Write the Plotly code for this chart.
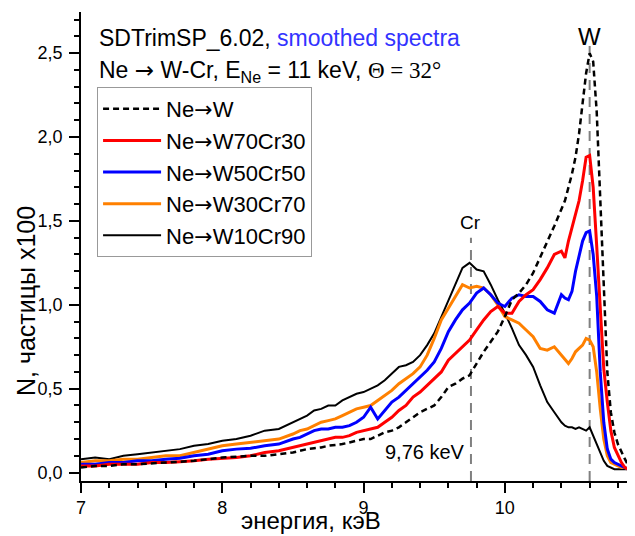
import plotly.graph_objects as go

# energy grid (keV)
energy = [7.0, 7.1, 7.2, 7.3, 7.4, 7.5, 7.6, 7.7, 7.8, 7.9, 8.0, 8.1, 8.2, 8.3, 8.4, 8.5,
          8.55, 8.6, 8.65, 8.7, 8.75, 8.8, 8.85, 8.9, 8.95, 9.0, 9.05, 9.1, 9.15, 9.2, 9.25,
          9.3, 9.35, 9.4, 9.45, 9.5, 9.55, 9.6, 9.65, 9.7, 9.75, 9.8, 9.85, 9.9, 9.95, 10.0,
          10.05, 10.1, 10.15, 10.2, 10.25, 10.3, 10.35, 10.4,
          10.425, 10.45, 10.475, 10.5, 10.525, 10.55, 10.575, 10.6, 10.625, 10.65, 10.675,
          10.7, 10.725, 10.75, 10.775, 10.8, 10.825, 10.85, 10.875, 10.9]

ne_w = [0.03, 0.04, 0.04, 0.05, 0.05, 0.055, 0.06, 0.065, 0.07, 0.08, 0.09, 0.095, 0.10, 0.10, 0.11, 0.12,
        0.13, 0.14, 0.145, 0.15, 0.16, 0.165, 0.17, 0.18, 0.19, 0.20, 0.20, 0.22, 0.24, 0.25, 0.27,
        0.30, 0.33, 0.36, 0.38, 0.40, 0.45, 0.51, 0.53, 0.56, 0.58, 0.65, 0.72, 0.78, 0.84, 0.93,
        1.03, 1.07, 1.12, 1.19, 1.28, 1.38, 1.47, 1.57,
        1.62, 1.70, 1.78, 1.88, 2.02, 2.20, 2.38, 2.50, 2.45, 2.15, 1.65,
        1.05, 0.60, 0.36, 0.24, 0.17, 0.12, 0.08, 0.04, 0.02]

w70cr30 = [0.04, 0.04, 0.05, 0.05, 0.05, 0.06, 0.06, 0.065, 0.07, 0.08, 0.085, 0.09, 0.10, 0.12, 0.13, 0.15,
           0.16, 0.17, 0.18, 0.19, 0.20, 0.21, 0.21, 0.22, 0.24, 0.25, 0.26, 0.27, 0.30, 0.33, 0.37,
           0.40, 0.45, 0.48, 0.52, 0.56, 0.60, 0.67, 0.71, 0.75, 0.79, 0.85, 0.91, 0.96, 0.99, 0.95,
           0.95, 1.02, 1.06, 1.09, 1.15, 1.22, 1.30, 1.32,
           1.28, 1.38, 1.46, 1.54, 1.62, 1.74, 1.88, 1.89, 1.70, 1.35, 0.95,
           0.62, 0.42, 0.25, 0.15, 0.10, 0.06, 0.03, 0.02, 0.02]

w50cr50 = [0.05, 0.05, 0.06, 0.06, 0.07, 0.07, 0.08, 0.085, 0.10, 0.11, 0.13, 0.14, 0.145, 0.16, 0.17, 0.20,
           0.21, 0.23, 0.25, 0.26, 0.26, 0.27, 0.27, 0.28, 0.30, 0.33, 0.39, 0.32, 0.37, 0.42, 0.45,
           0.49, 0.53, 0.57, 0.61, 0.66, 0.74, 0.84, 0.91, 0.97, 1.01, 1.07, 1.10, 1.06, 1.01, 0.99,
           1.04, 1.06, 1.05, 1.05, 1.02, 0.97, 0.95, 1.06,
           1.04, 1.03, 1.08, 1.20, 1.30, 1.38, 1.43, 1.44, 1.30, 1.05, 0.60,
           0.30, 0.14, 0.08, 0.06, 0.05, 0.04, 0.03, 0.02, 0.02]

w30cr70 = [0.06, 0.07, 0.07, 0.08, 0.08, 0.09, 0.10, 0.10, 0.12, 0.14, 0.16, 0.17, 0.18, 0.19, 0.20, 0.23,
           0.25, 0.26, 0.28, 0.30, 0.31, 0.32, 0.34, 0.36, 0.38, 0.39, 0.40, 0.43, 0.46, 0.49, 0.53,
           0.56, 0.59, 0.63, 0.70, 0.80, 0.91, 0.98, 1.05, 1.12, 1.10, 1.11, 1.10, 1.06, 1.00, 0.93,
           0.91, 0.89, 0.85, 0.81, 0.74, 0.73, 0.75, 0.70,
           0.67, 0.65, 0.68, 0.72, 0.74, 0.76, 0.80, 0.79, 0.75, 0.60, 0.38,
           0.20, 0.10, 0.06, 0.05, 0.04, 0.03, 0.03, 0.02, 0.02]

w10cr90 = [0.08, 0.09, 0.08, 0.10, 0.11, 0.12, 0.13, 0.14, 0.16, 0.17, 0.19, 0.20, 0.22, 0.25, 0.26, 0.30,
           0.32, 0.34, 0.37, 0.38, 0.40, 0.40, 0.43, 0.45, 0.47, 0.48, 0.50, 0.52, 0.55, 0.59, 0.63,
           0.64, 0.66, 0.70, 0.76, 0.83, 0.93, 1.03, 1.12, 1.22, 1.25, 1.21, 1.20, 1.12, 1.03, 0.95,
           0.86, 0.76, 0.70, 0.63, 0.52, 0.42, 0.36, 0.30,
           0.28, 0.27, 0.27, 0.26, 0.27, 0.26, 0.25, 0.27, 0.22, 0.17, 0.11,
           0.07, 0.04, 0.03, 0.02, 0.02, 0.02, 0.02, 0.02, 0.02]

peak_cr = 9.76
peak_w = 10.6

FONT = "Liberation Sans, Arial, sans-serif"
ARROW = "<span style='font-family:DejaVu Sans'>→</span>"

fig = go.Figure()

# draw order: black below, dashed W on top; legend order set by legendrank
traces = [
    (w10cr90, "W10Cr90", "black", 2, "solid", 5),
    (w30cr70, "W30Cr70", "#ff8000", 3, "solid", 4),
    (w50cr50, "W50Cr50", "#0000ff", 3, "solid", 3),
    (w70cr30, "W70Cr30", "#ff0000", 3, "solid", 2),
    (ne_w, "W", "black", 2.5, "6px,4px", 1),
]
for ys, target, color, width, dash, rank in traces:
    fig.add_trace(go.Scatter(
        x=energy, y=ys, mode="lines", name="Ne" + ARROW + target, legendrank=rank,
        line=dict(color=color, width=width, dash=dash)
    ))

# reference lines for Cr and W
fig.add_shape(type="line", x0=peak_cr, x1=peak_cr, y0=-0.05, y1=1.40,
              line=dict(color="gray", width=2, dash="10px,7px"), layer="below")
fig.add_shape(type="line", x0=peak_w, x1=peak_w, y0=-0.05, y1=2.55,
              line=dict(color="gray", width=2, dash="10px,7px"), layer="below")

fig.add_annotation(x=peak_cr, y=1.49, text="Cr", showarrow=False,
                   font=dict(size=19, color="black"))
fig.add_annotation(x=peak_w, y=2.60, text="W", showarrow=False,
                   font=dict(size=24, color="black"))
fig.add_annotation(x=9.735, y=0.12, text="9,76 keV", showarrow=False, xanchor="right",
                   font=dict(size=20, color="black"))

fig.add_annotation(xref="paper", yref="paper", x=0.029, y=0.945,
                   xanchor="left", yanchor="middle",
                   text="SDTrimSP_6.02, <span style='color:#3333ff'>smoothed spectra</span>",
                   showarrow=False, font=dict(size=23, color="black"))
fig.add_annotation(xref="paper", yref="paper", x=0.029, y=0.874,
                   xanchor="left", yanchor="middle",
                   text="Ne " + ARROW + " W-Cr, E<sub>Ne</sub> = 11 keV, "
                        "<span style='font-family:Liberation Serif'>Θ = 32°</span>",
                   showarrow=False, font=dict(size=23, color="black"))

# axis titles placed as annotations for exact position
fig.add_annotation(xref="paper", yref="paper", x=0.415, y=-0.085, yanchor="middle",
                   text="энергия, кэВ", showarrow=False, font=dict(size=24, color="black"))
fig.add_annotation(xref="paper", yref="paper", x=-0.099, y=0.384,
                   xanchor="center", yanchor="middle",
                   text="N, частицы x100", textangle=-90, showarrow=False,
                   font=dict(size=25, color="black"))

# the page has an 8px body margin, so the figure is shrunk by that amount
fig.update_layout(
    width=627, height=528,
    margin=dict(l=73, r=0, t=4, b=55),
    paper_bgcolor="white", plot_bgcolor="white",
    separators=", ",
    font=dict(family=FONT, size=18, color="black"),
    legend=dict(
        x=0.029, y=0.84, xanchor="left", yanchor="top",
        bgcolor="white", bordercolor="#999999", borderwidth=1,
        font=dict(size=22), itemwidth=58,
    ),
    showlegend=True,
)

fig.update_xaxes(
    range=[7, 10.921], dtick=1, tick0=7,
    showline=True, linecolor="black", linewidth=1.5,
    ticks="outside", ticklen=10, tickwidth=1.5, tickcolor="black",
    ticklabelstandoff=0,
    minor=dict(dtick=0.2, ticks="outside", ticklen=5, tickwidth=1.5, tickcolor="black"),
    showgrid=False, zeroline=False,
)
fig.update_yaxes(
    range=[-0.05, 2.745], dtick=0.5, tick0=0, tickformat=".1f",
    showline=True, linecolor="black", linewidth=1.5,
    ticks="outside", ticklen=10, tickwidth=1.5, tickcolor="black",
    ticklabelstandoff=3,
    minor=dict(dtick=0.1, ticks="outside", ticklen=5, tickwidth=1.5, tickcolor="black"),
    showgrid=False, zeroline=False,
)

fig.write_html("out.html")
